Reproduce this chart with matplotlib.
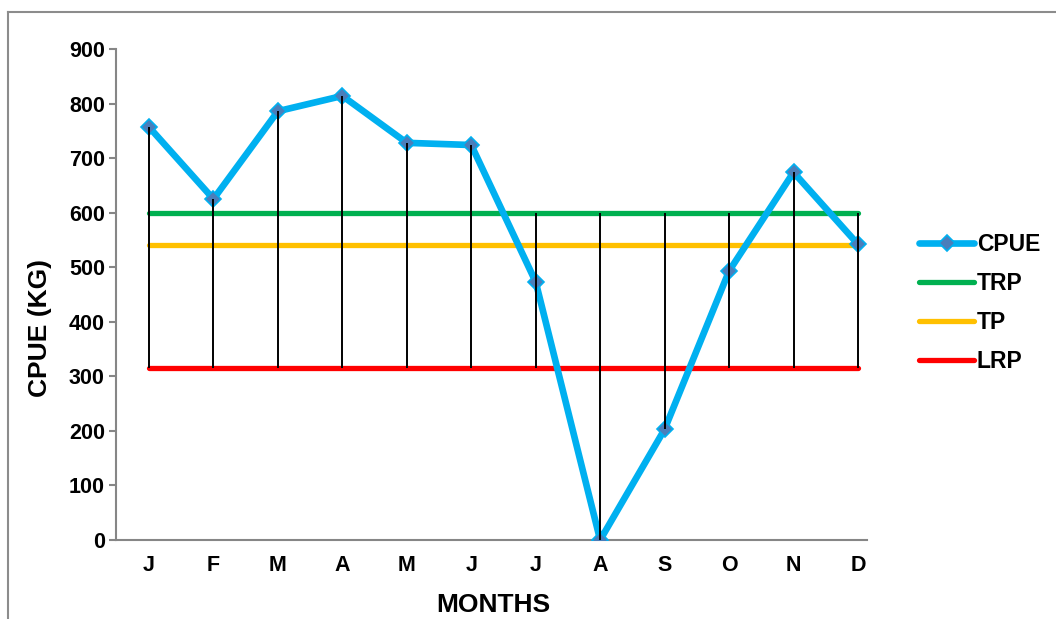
import matplotlib.pyplot as plt
import numpy as np
from matplotlib.lines import Line2D

# Monthly catch per unit effort with reference points
MONTHS = ["J", "F", "M", "A", "M", "J", "J", "A", "S", "O", "N", "D"]
CPUE = [757, 625, 786, 814, 728, 724, 473, 0, 203, 493, 674, 542]
TRP = 600
TP = 540
LRP = 315
Y_TICKS = [0, 100, 200, 300, 400, 500, 600, 700, 800, 900]

plt.rcParams["font.family"] = ["Liberation Sans", "DejaVu Sans"]
plt.rcParams["font.weight"] = "bold"

W, H = 1056, 619
fig = plt.figure(figsize=(W / 100, H / 100), dpi=100)
ax = fig.add_axes([116 / W, 1 - 540 / H, (867 - 116) / W, (540 - 49) / H])

x = np.arange(len(MONTHS))
trp = np.full(len(x), TRP)
tp = np.full(len(x), TP)
lrp = np.full(len(x), LRP)

ax.plot(x, trp, color="#00B050", lw=3.8, solid_capstyle="round", label="TRP", zorder=2)
ax.plot(x, tp, color="#FFC000", lw=3.8, solid_capstyle="round", label="TP", zorder=2)
ax.plot(x, lrp, color="#FF0000", lw=3.8, solid_capstyle="round", label="LRP", zorder=2)
ax.plot(x, CPUE, color="#00B0F0", lw=4.8, marker="D", markersize=8.5,
        markerfacecolor="#4A7EBB", markeredgecolor="#00B0F0", markeredgewidth=1.2,
        solid_joinstyle="round", solid_capstyle="round", label="CPUE", zorder=3)

# high-low lines across all series
stack = np.vstack([CPUE, trp, tp, lrp])
ax.vlines(x, stack.min(axis=0), stack.max(axis=0), color="black", lw=1.4, zorder=4)

ax.set_xlim(-0.512, 11.14)
ax.set_ylim(0, 900)
ax.set_xticks(x)
ax.set_xticklabels(MONTHS, fontsize=15.5, fontweight="bold")
ax.set_yticks(Y_TICKS)
ax.set_yticklabels([str(v) for v in Y_TICKS], fontsize=15.5, fontweight="bold")
ax.tick_params(axis="x", length=0, pad=11)
ax.tick_params(axis="y", length=5, width=1.5, color="#868686", pad=3)

for side in ["top", "right"]:
    ax.spines[side].set_visible(False)
for side in ["left", "bottom"]:
    ax.spines[side].set_color("#868686")
    ax.spines[side].set_linewidth(1.5)

fig.text(40 / W, 1 - 328 / H, "CPUE (KG)", rotation=90, fontsize=19,
         fontweight="bold", ha="center", va="center")
fig.text(493 / W, 1 - 605 / H, "MONTHS", fontsize=19, fontweight="bold",
         ha="center", va="center")

handles, labels = ax.get_legend_handles_labels()
order = [3, 0, 1, 2]
fig.legend([handles[i] for i in order], [labels[i] for i in order],
           loc="center left", bbox_to_anchor=(919 / W, 1 - 303 / H),
           frameon=False, handlelength=2.4, handletextpad=0.12,
           labelspacing=0.69, borderpad=0, borderaxespad=0,
           prop={"weight": "bold", "size": 16.5})

# outer frame on the top and left
fig.add_artist(Line2D([8 / W, 8 / W], [0, 1 - 12 / H], color="#8C8C8C", lw=1.5))
fig.add_artist(Line2D([8 / W, 1], [1 - 12 / H, 1 - 12 / H], color="#8C8C8C", lw=1.5))

fig.savefig("out.png", dpi=100)
